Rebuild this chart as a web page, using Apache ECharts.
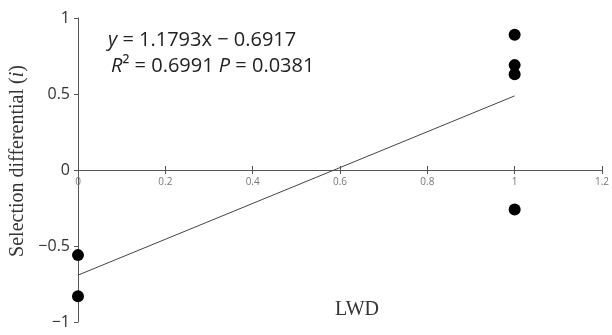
<!DOCTYPE html>
<html>
<head>
<meta charset="utf-8">
<script src="https://cdn.jsdelivr.net/npm/echarts@6/dist/echarts.min.js"></script>
<style>
  html, body { margin: 0; padding: 0; background: #fff; }
  #js_chart { width: 612px; height: 335px; }
</style>
</head>
<body>
<div id="js_chart"></div>
<script>
// observed points (LWD, selection differential)
var lwdPoints = [[0, -0.56], [0, -0.83], [1, 0.89], [1, 0.69], [1, 0.63], [1, -0.26]];
// fitted trend line y = 1.1793x - 0.6917, drawn between x=0 and x=1
var fitSlope = 1.1793;
var fitIntercept = -0.6917;
var fitLine = [[0, -0.6917], [1, 0.4876]];
var xTicks = [0, 0.2, 0.4, 0.6, 0.8, 1, 1.2];
var yTicks = [-1, -0.5, 0, 0.5, 1];

var myChart = echarts.init(document.getElementById('js_chart'));
var axisColor = '#555';
var gridTop = 18, gridBottom = 13;
// the x axis sits on y = 0, half way down the plot
var zeroOffset = -(335 - gridTop - gridBottom) / 2;
var option = {
    animation: false,
    grid: { left: 78, right: 8, top: gridTop, bottom: gridBottom },
    xAxis: [
        {
            type: 'value', position: 'bottom', offset: zeroOffset,
            min: xTicks[0], max: xTicks[xTicks.length - 1], interval: 0.2,
            axisLine: { show: true, onZero: false, lineStyle: { color: axisColor, width: 1 } },
            axisTick: { show: true, length: 4, lineStyle: { color: axisColor } },
            axisLabel: { color: '#777', fontSize: 10, fontFamily: 'Open Sans', margin: 7 },
            splitLine: { show: false }
        },
        {
            type: 'value', position: 'top', offset: zeroOffset,
            min: xTicks[0], max: xTicks[xTicks.length - 1], interval: 0.2,
            axisLine: { show: false, onZero: false },
            axisTick: { show: true, length: 4, lineStyle: { color: axisColor } },
            axisLabel: { show: false },
            splitLine: { show: false }
        }
    ],
    yAxis: {
        type: 'value',
        min: yTicks[0], max: yTicks[yTicks.length - 1], interval: 0.5,
        axisLine: { show: true, onZero: false, lineStyle: { color: axisColor, width: 1 } },
        axisTick: { show: true, length: 4, lineStyle: { color: axisColor } },
        axisLabel: {
            color: '#333', fontSize: 16, fontFamily: 'Open Sans', margin: 8,
            formatter: function (v) { return String(v).replace('-', '\u2212'); }
        },
        splitLine: { show: false }
    },
    graphic: [
        {
            type: 'text', x: 18, y: 161, rotation: Math.PI / 2,
            style: {
                text: '{n|Selection differential (}{i|i}{n|)}',
                align: 'center', verticalAlign: 'middle',
                rich: {
                    n: { fontFamily: 'Liberation Serif', fontSize: 20, fill: '#333' },
                    i: { fontFamily: 'Liberation Serif', fontSize: 20, fontStyle: 'italic', fill: '#333' }
                }
            }
        },
        {
            type: 'text', left: 108, top: 30,
            style: {
                text: '{i|y} = ' + fitSlope + 'x \u2212 ' + Math.abs(fitIntercept),
                font: '20px "Open Sans"', fill: '#222',
                rich: { i: { fontStyle: 'italic', fontSize: 20, fontFamily: 'Open Sans', fill: '#222' } }
            }
        },
        {
            type: 'text', left: 111, top: 56,
            style: {
                text: '{i|R}\u00b2 = 0.6991 {i|P} = 0.0381',
                font: '20px "Open Sans"', fill: '#222',
                rich: { i: { fontStyle: 'italic', fontSize: 20, fontFamily: 'Open Sans', fill: '#222' } }
            }
        },
        {
            type: 'text', x: 357, y: 310,
            style: { text: 'LWD', font: '20px "Liberation Serif"', fill: '#333', align: 'center', verticalAlign: 'middle' }
        }
    ],
    series: [
        {
            type: 'line',
            data: fitLine,
            symbol: 'none',
            lineStyle: { color: '#444', width: 1 },
            z: 2
        },
        {
            type: 'scatter',
            data: lwdPoints,
            symbol: 'circle',
            symbolSize: 12,
            itemStyle: { color: '#000', opacity: 1 },
            z: 3
        }
    ]
};
myChart.setOption(option);
</script>
</body>
</html>
